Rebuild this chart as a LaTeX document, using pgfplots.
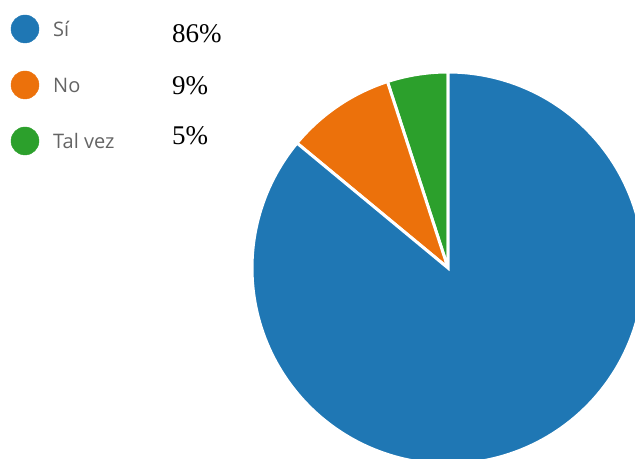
\documentclass[border=0pt]{standalone}
\usepackage{pgfplots}
\pgfplotsset{compat=1.18}
\usepackage{pgfplotstable}
\usepackage{fontspec}
\setmainfont{Liberation Serif}
\newfontfamily\labfont{Open Sans}
\definecolor{pblue}{RGB}{31,119,180}
\definecolor{porange}{RGB}{236,113,11}
\definecolor{pgreen}{RGB}{44,160,44}
\definecolor{labgray}{RGB}{100,100,100}
\pgfplotstableread{
label value
Si 86
No 9
TalVez 5
}\piedata
\begin{document}
\begin{tikzpicture}
\pgfplotstablegetelem{0}{value}\of\piedata\let\vS\pgfplotsretval
\pgfplotstablegetelem{1}{value}\of\piedata\let\vN\pgfplotsretval
\pgfplotstablegetelem{2}{value}\of\piedata\let\vT\pgfplotsretval
\pgfmathsetmacro\aA{90}
\pgfmathsetmacro\aB{90+3.6*\vT}
\pgfmathsetmacro\aC{\aB+3.6*\vN}
\pgfmathsetmacro\aD{\aC+3.6*\vS}
\begin{axis}[
  at={(0,0)}, anchor=south west,
  width=635bp, height=459bp, scale only axis,
  xmin=0, xmax=635, ymin=0, ymax=459,
  hide axis, clip=true,
]
\addplot[fill=pgreen, draw=white, line width=3bp, domain=\aA:\aB, samples=30, variable=\t]
  ({448+196*cos(\t)},{191+196*sin(\t)}) -- (axis cs:448,191) -- cycle;
\addplot[fill=porange, draw=white, line width=3bp, domain=\aB:\aC, samples=40, variable=\t]
  ({448+196*cos(\t)},{191+196*sin(\t)}) -- (axis cs:448,191) -- cycle;
\addplot[fill=pblue, draw=white, line width=3bp, domain=\aC:\aD, samples=200, variable=\t]
  ({448+196*cos(\t)},{191+196*sin(\t)}) -- (axis cs:448,191) -- cycle;
% legend markers
\addplot[only marks, mark=*, mark size=14bp, color=pblue] coordinates {(25,430)};
\addplot[only marks, mark=*, mark size=14bp, color=porange] coordinates {(25,374)};
\addplot[only marks, mark=*, mark size=14bp, color=pgreen] coordinates {(25,318)};
\node[anchor=west, inner sep=0pt, text=labgray, font=\labfont\fontsize{20bp}{22bp}\selectfont] at (axis cs:53,430) {Sí};
\node[anchor=west, inner sep=0pt, text=labgray, font=\labfont\fontsize{20bp}{22bp}\selectfont] at (axis cs:53,374) {No};
\node[anchor=west, inner sep=0pt, text=labgray, font=\labfont\fontsize{20bp}{22bp}\selectfont] at (axis cs:53,318) {Tal vez};
\node[anchor=base west, inner sep=0pt, font=\fontsize{27bp}{29bp}\selectfont] at (axis cs:172,416) {86\%};
\node[anchor=base west, inner sep=0pt, font=\fontsize{27bp}{29bp}\selectfont] at (axis cs:172,364) {9\%};
\node[anchor=base west, inner sep=0pt, font=\fontsize{27bp}{29bp}\selectfont] at (axis cs:172,314) {5\%};
\end{axis}
\pgfresetboundingbox
\useasboundingbox (0,0) rectangle (635bp,459bp);
\end{tikzpicture}
\end{document}
